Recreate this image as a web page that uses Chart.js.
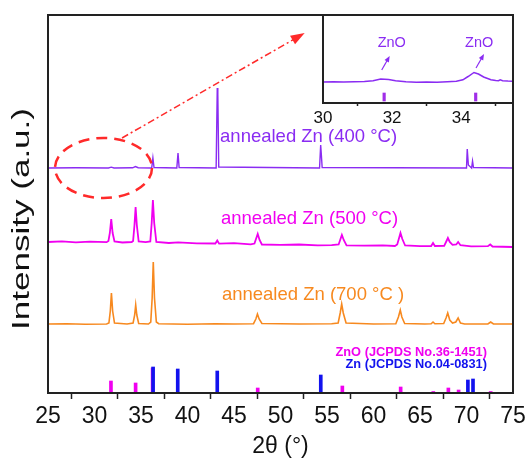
<!DOCTYPE html>
<html><head><meta charset="utf-8">
<script src="https://cdn.jsdelivr.net/npm/chart.js@4.4.1/dist/chart.umd.min.js"></script>
<style>
html,body{margin:0;padding:0;background:#fff;}
#wrap{position:relative;width:528px;height:458px;overflow:hidden;}
#main{position:absolute;left:0;top:0;width:528px;height:458px;}
#inset{position:absolute;left:309px;top:5px;width:214px;height:125px;}
</style></head><body>
<div id="wrap"><canvas id="main" width="528" height="458"></canvas><canvas id="inset" width="214" height="125"></canvas></div>
<script>
// ---------------- DATA ----------------
const xTickValues = [25,30,35,40,45,50,55,60,65,70,75];
const insetTickValues = [30,32,34];

const seriesNames = ['annealed Zn (400 °C)', 'annealed Zn (500 °C)', 'annealed Zn (700 °C )'];

// annealed 400 °C (offset trace)
const zn400 = [[25,225],[28,225.3],[31.5,225],[31.8,225.8],[32.1,225],[34.1,225.2],[34.4,226.5],[34.7,225.3],
 [36.15,225],[36.28,235],[36.4,225.5],[38.85,225],[38.98,240],[39.1,225.5],
 [43.08,225],[43.2,305],[43.26,299],[43.36,226],[54.2,225],[54.32,248],[54.38,240],[54.48,225.5],
 [70.0,225],[70.08,244],[70.2,228],[70.55,225],[70.65,232],[70.75,225.5],[75,225]];

// annealed 500 °C
const zn500 = [[25,151],[26.5,151.6],[28,150.6],[29.5,151.3],[31.3,150.8],
 [31.5,152],[31.65,160],[31.8,174],[31.95,160],[32.15,151.5],[33,150.5],[34.0,151],
 [34.15,152],[34.3,168],[34.42,186],[34.55,168],[34.75,151.5],[35.5,150.8],
 [36.0,151.5],[36.15,170],[36.28,193],[36.42,170],[36.65,151],
 [38,150],[39,150.6],[41,149.7],[43.0,149.5],[43.2,152.5],[43.4,149.3],[45,149.8],[46.8,148.6],
 [47.2,149.5],[47.4,155],[47.55,159],[47.75,153],[48.0,148.5],
 [50,148.2],[52,148.5],[54,147.6],[55.5,147.8],
 [56.25,148.5],[56.45,154],[56.6,158],[56.8,153],[57.1,147.6],
 [59,147.4],[61,147.6],[62.3,147],
 [62.55,148.5],[62.75,155],[62.9,160],[63.1,154],[63.4,147.5],
 [65,146.8],[66.2,147],[66.4,150],[66.6,147],
 [67.6,147.2],[67.85,152],[68.0,155],[68.2,151],[68.5,148.2],[68.9,148.5],[69.1,151],[69.35,147.8],
 [70.5,146.6],[72.3,146.8],[72.55,148.5],[72.8,146.5],[75,146]];

// annealed 700 °C
const zn700 = [[25,69],[27,69.3],[29,68.8],[31.3,69],
 [31.55,70],[31.7,82],[31.82,100],[31.95,82],[32.15,70],
 [33.5,69],[34.15,70],[34.32,78],[34.43,88],[34.55,78],[34.75,69.5],
 [35.8,69],[36.05,71],[36.2,95],[36.32,131],[36.45,95],[36.65,71],[36.9,69.3],
 [40,68.8],[43,69.2],[45,69],[47.1,69.3],[47.35,74],[47.52,79],[47.7,74],[48,69.5],
 [52,69],[55.5,69.2],[56.2,70],[56.42,80],[56.58,89],[56.75,80],[57.05,70],
 [60,69],[62.4,69.3],[62.68,76],[62.88,83],[63.05,76],[63.35,69.5],
 [65.5,69],[66.2,69.2],[66.4,71],[66.6,69.2],[67.55,69.5],[67.8,75],[67.98,80],[68.2,73],[68.5,70],
 [68.85,71],[69.1,75],[69.35,70],[69.8,69],[72.3,69],[72.6,71],[72.9,69],[75,69]];

// reference patterns (stick heights)
const znoRefX = [31.77,34.42,36.25,47.55,56.65,62.92,66.43,68.05,69.15,72.6];
const znoRefY = [12,10,25,5,7,6,1.5,5,3,1.5];
const znRefX  = [36.3,38.95,43.2,54.33,70.15,70.7];
const znRefY  = [26,24,22,18,13,14];

// inset (30–35.5°, 400 °C trace, zoomed)
const insetTrace = [[30,21],[30.3,21.3],[30.6,20.9],[30.9,21.2],[31.2,21.4],[31.45,22.3],[31.67,24],[31.9,23.4],
 [32.1,22.3],[32.4,21.2],[32.7,20.8],[33.0,21.1],[33.3,20.8],[33.6,21.2],[33.86,21.7],[34.05,23.2],
 [34.2,26.5],[34.37,30.5],[34.5,29],[34.65,26],[34.86,23.2],[35.0,22.4],[35.08,22.3],[35.13,23.2],
 [35.2,22.3],[35.35,21.9],[35.5,21.8]];
const insetRefX = [31.77,34.42];
const insetRefY = [[2,10],[2,10]];

// ---------------- STYLE ----------------
const C400 = '#8a2cf2', C500 = '#f000f0', C700 = '#f7891f', CBLUE = '#1212ee', CRED = '#ff2a2a';
const FONT = '"Liberation Sans", Arial, Helvetica, sans-serif';
Chart.defaults.font.family = FONT;

const toXY = arr => arr.map(p => ({x:p[0], y:p[1]}));
const lineDs = (data, color, w) => ({type:'line', data:toXY(data), borderColor:color, borderWidth:w,
  pointRadius:0, tension:0, fill:false, order:3});

const mainAnnot = {
  id:'mainAnnot',
  afterDraw(chart){
    const {ctx, chartArea:a, scales:{x,y}} = chart;
    ctx.save();
    // frame
    ctx.strokeStyle = '#222'; ctx.lineWidth = 2;
    ctx.strokeRect(a.left, a.top, a.right-a.left, a.bottom-a.top);
    // red dashed ellipse
    const cx = x.getPixelForValue(30.97), cy = y.getPixelForValue(225);
    ctx.strokeStyle = CRED; ctx.lineWidth = 2.5; ctx.setLineDash([11,7]);
    ctx.beginPath(); ctx.ellipse(cx, cy, 48.5, 30, 0, 0, Math.PI*2); ctx.stroke();
    // dash-dot arrow
    const x1 = x.getPixelForValue(32.96), y1 = y.getPixelForValue(255);
    const x2 = x.getPixelForValue(52.6), y2 = y.getPixelForValue(360);
    const ang = Math.atan2(y2-y1, x2-x1);
    ctx.lineWidth = 1.5; ctx.setLineDash([7,3,2,3]);
    ctx.beginPath(); ctx.moveTo(x1,y1); ctx.lineTo(x2-10*Math.cos(ang), y2-10*Math.sin(ang)); ctx.stroke();
    ctx.setLineDash([]); ctx.fillStyle = CRED;
    ctx.beginPath(); ctx.moveTo(x2,y2);
    ctx.lineTo(x2-14*Math.cos(ang)+5*Math.sin(ang), y2-14*Math.sin(ang)-5*Math.cos(ang));
    ctx.lineTo(x2-14*Math.cos(ang)-5*Math.sin(ang), y2-14*Math.sin(ang)+5*Math.cos(ang));
    ctx.closePath(); ctx.fill();
    // series labels
    ctx.font = '18.5px ' + FONT; ctx.textAlign = 'left'; ctx.textBaseline = 'middle';
    const lx = [43.5, 43.6, 43.7], ly = [256, 174, 98], lc = [C400, C500, C700];
    seriesNames.forEach((t,i) => { ctx.fillStyle = lc[i]; ctx.fillText(t, x.getPixelForValue(lx[i]), y.getPixelForValue(ly[i])); });
    // reference legend
    ctx.font = 'bold 12.8px ' + FONT; ctx.textAlign = 'right';
    ctx.fillStyle = C500; ctx.fillText('ZnO (JCPDS No.36-1451)', x.getPixelForValue(72.2), y.getPixelForValue(40.5));
    ctx.fillStyle = CBLUE; ctx.fillText('Zn (JCPDS No.04-0831)', x.getPixelForValue(72.2), y.getPixelForValue(28.5));
    // y-axis title
    ctx.font = '23px ' + FONT; ctx.fillStyle = '#111'; ctx.textAlign = 'center';
    const t = 'Intensity (a.u.)';
    const sx = 222 / ctx.measureText(t).width;
    ctx.translate(23, 219); ctx.rotate(-Math.PI/2); ctx.scale(sx, 1);
    ctx.fillText(t, 0, 0);
    ctx.restore();
  }
};

new Chart(document.getElementById('main'), {
  type:'line',
  data:{datasets:[
    {type:'bar', data:znRefX.map((v,i)=>({x:v, y:znRefY[i]})), backgroundColor:CBLUE, barThickness:3, grouped:false, order:1},
    {type:'bar', data:znoRefX.map((v,i)=>({x:v, y:znoRefY[i]})), backgroundColor:C500, barThickness:3, grouped:false, order:2},
    lineDs(zn400, C400, 1.4),
    lineDs(zn500, C500, 1.8),
    lineDs(zn700, C700, 1.6)
  ]},
  options:{
    responsive:false, animation:false, events:[],
    layout:{padding:{left:48, top:15, right:15, bottom:0}},
    plugins:{legend:{display:false}, tooltip:{enabled:false}},
    scales:{
      x:{type:'linear', min:25, max:75, offset:false,
        afterBuildTicks(s){ s.ticks = xTickValues.map(v=>({value:v})); },
        ticks:{autoSkip:false, maxRotation:0, color:'#111', font:{size:23, lineHeight:1.4}, padding:2},
        grid:{drawOnChartArea:false, drawTicks:true, tickLength:6, tickColor:'#222', tickWidth:1.5},
        border:{display:true, color:'#222', width:2},
        title:{display:true, text:'2θ (°)', color:'#111', font:{size:23, lineHeight:1}, padding:{top:0, bottom:0}},
        afterFit(s){ s.height = 65; }
      },
      y:{display:false, min:0, max:378}
    }
  },
  plugins:[mainAnnot]
});

const insetAnnot = {
  id:'insetAnnot',
  beforeDraw(chart){
    const {ctx, chartArea:a} = chart;
    ctx.save(); ctx.fillStyle = '#fff'; ctx.fillRect(a.left, a.top, a.right-a.left, a.bottom-a.top); ctx.restore();
  },
  afterDraw(chart){
    const {ctx, chartArea:a, scales:{x,y}} = chart;
    ctx.save();
    ctx.strokeStyle = '#222'; ctx.lineWidth = 2;
    ctx.strokeRect(a.left, a.top, a.right-a.left, a.bottom-a.top);
    ctx.fillStyle = C400; ctx.strokeStyle = C400;
    ctx.font = '14.5px ' + FONT; ctx.textAlign = 'center'; ctx.textBaseline = 'middle';
    const labX = [31.99, 34.52];
    const arr = [[31.7,33,31.93,47],[34.43,35,34.66,49]];
    labX.forEach(v => ctx.fillText('ZnO', x.getPixelForValue(v), y.getPixelForValue(60)));
    ctx.lineWidth = 1.2;
    arr.forEach(r => {
      const x1 = x.getPixelForValue(r[0]), y1 = y.getPixelForValue(r[1]);
      const x2 = x.getPixelForValue(r[2]), y2 = y.getPixelForValue(r[3]);
      const ang = Math.atan2(y2-y1, x2-x1);
      ctx.beginPath(); ctx.moveTo(x1,y1); ctx.lineTo(x2-4*Math.cos(ang), y2-4*Math.sin(ang)); ctx.stroke();
      ctx.beginPath(); ctx.moveTo(x2,y2);
      ctx.lineTo(x2-6*Math.cos(ang)+2.5*Math.sin(ang), y2-6*Math.sin(ang)-2.5*Math.cos(ang));
      ctx.lineTo(x2-6*Math.cos(ang)-2.5*Math.sin(ang), y2-6*Math.sin(ang)+2.5*Math.cos(ang));
      ctx.closePath(); ctx.fill();
    });
    ctx.restore();
  }
};

new Chart(document.getElementById('inset'), {
  type:'line',
  data:{datasets:[
    {type:'bar', data:insetRefX.map((v,i)=>({x:v, y:insetRefY[i]})), backgroundColor:'#a02ee8', barThickness:2.5, grouped:false, order:1},
    lineDs(insetTrace, C400, 1.5)
  ]},
  options:{
    responsive:false, animation:false, events:[],
    layout:{padding:{left:14, top:10, right:10, bottom:0}},
    plugins:{legend:{display:false}, tooltip:{enabled:false}},
    scales:{
      x:{type:'linear', min:30, max:35.5, offset:false,
        afterBuildTicks(s){ s.ticks = insetTickValues.map(v=>({value:v})); },
        ticks:{autoSkip:false, maxRotation:0, color:'#111', font:{size:17, lineHeight:1.2}, padding:2},
        grid:{drawOnChartArea:false, drawTicks:true, tickLength:3, tickColor:'#222', tickWidth:1.5},
        border:{display:true, color:'#222', width:2},
        afterFit(s){ s.height = 27; }
      },
      y:{display:false, min:0, max:88}
    }
  },
  plugins:[insetAnnot]
});
</script></body></html>
